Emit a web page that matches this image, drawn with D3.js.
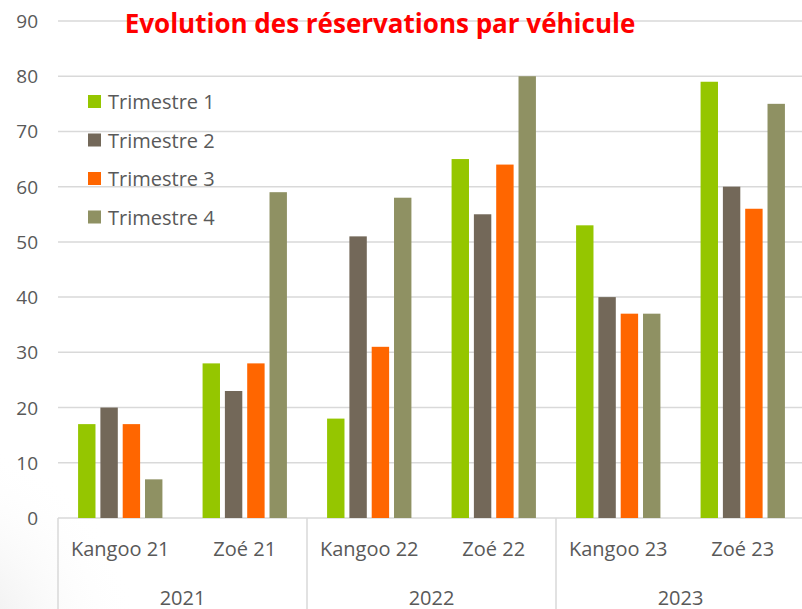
<!DOCTYPE html>
<html>
<head>
<meta charset="utf-8">
<title>Evolution des réservations par véhicule</title>
<script src="https://cdn.jsdelivr.net/npm/d3@7"></script>
<style>
  body { margin: 0; background: #fff; }
  svg text { font-family: "Open Sans", Lato, sans-serif; }
</style>
</head>
<body>
<script>
// data
var categories = ["Kangoo 21", "Zoé 21", "Kangoo 22", "Zoé 22", "Kangoo 23", "Zoé 23"];
var years = ["2021", "2022", "2023"];
var series = ["Trimestre 1", "Trimestre 2", "Trimestre 3", "Trimestre 4"];
var t1 = [17, 28, 18, 65, 53, 79];
var t2 = [20, 23, 51, 55, 40, 60];
var t3 = [17, 28, 31, 64, 37, 56];
var t4 = [7, 59, 58, 80, 37, 75];
var yTicks = [0, 10, 20, 30, 40, 50, 60, 70, 80, 90];
var colors = ["#95c600", "#736859", "#ff6600", "#8f9163"];

var W = 802, H = 609;
var mLeft = 58, mRight = 805, mTop = 21, mBottom = 518;

var svg = d3.select("body").append("svg").attr("width", W).attr("height", H);

// faint slide shading in the lower left corner
var grad = svg.append("defs").append("radialGradient").attr("id", "shade");
grad.append("stop").attr("offset", "0%").attr("stop-color", "#e4e4e4");
grad.append("stop").attr("offset", "100%").attr("stop-color", "#ffffff").attr("stop-opacity", 0);
svg.append("circle").attr("cx", -60).attr("cy", 640).attr("r", 200).attr("fill", "url(#shade)");

var x = d3.scaleBand().domain(categories).range([mLeft, mRight]);
var xInner = d3.scaleBand().domain(series).range([0, x.bandwidth()]).paddingInner(0.22).paddingOuter(0.9);
var y = d3.scaleLinear().domain([0, 90]).range([mBottom, mTop]);

// gridlines
svg.append("g").selectAll("line").data(yTicks).enter().append("line")
  .attr("x1", mLeft).attr("x2", W)
  .attr("y1", d => y(d)).attr("y2", d => y(d))
  .attr("stroke", "#d9d9d9").attr("stroke-width", 1.5);

// y labels
svg.append("g").selectAll("text").data(yTicks).enter().append("text")
  .attr("x", 38).attr("y", d => y(d) + 7)
  .attr("text-anchor", "end").attr("font-size", 19).attr("fill", "#595959")
  .text(d => d);

// bars
var table = categories.map((c, i) => ({cat: c, vals: [t1[i], t2[i], t3[i], t4[i]]}));
var grp = svg.append("g").selectAll("g").data(table).enter().append("g")
  .attr("transform", d => "translate(" + x(d.cat) + ",0)");
grp.selectAll("rect").data(d => d.vals.map((v, j) => ({s: series[j], v: v, j: j}))).enter().append("rect")
  .attr("x", d => xInner(d.s))
  .attr("width", xInner.bandwidth())
  .attr("y", d => y(d.v))
  .attr("height", d => y(0) - y(d.v))
  .attr("fill", d => colors[d.j]);

// category axis separators
var sep = [0, 2, 4].map(i => x(categories[i])).concat([mRight]);
svg.append("g").selectAll("line").data(sep).enter().append("line")
  .attr("x1", d => d).attr("x2", d => d)
  .attr("y1", mBottom).attr("y2", H)
  .attr("stroke", "#d9d9d9").attr("stroke-width", 1.5);

svg.append("g").selectAll("text").data(categories).enter().append("text")
  .attr("x", d => x(d) + x.bandwidth() / 2).attr("y", 556)
  .attr("text-anchor", "middle").attr("font-size", 20).attr("fill", "#595959")
  .text(d => d);

svg.append("g").selectAll("text").data(years).enter().append("text")
  .attr("x", (d, i) => x(categories[i * 2]) + x.bandwidth())
  .attr("y", 605)
  .attr("text-anchor", "middle").attr("font-size", 20).attr("fill", "#595959")
  .text(d => d);

// legend
var lg = svg.append("g").selectAll("g").data(series).enter().append("g")
  .attr("transform", (d, i) => "translate(88," + (95 + i * 38.5) + ")");
lg.append("rect").attr("width", 13).attr("height", 13).attr("fill", (d, i) => colors[i]);
lg.append("text").attr("x", 20).attr("y", 14).attr("font-size", 20).attr("fill", "#595959").text(d => d);

// title
svg.append("text").attr("x", 380).attr("y", 33)
  .attr("text-anchor", "middle").attr("font-size", 26).attr("font-weight", "bold")
  .attr("fill", "#ff0000").text("Evolution des réservations par véhicule");
</script>
</body>
</html>
